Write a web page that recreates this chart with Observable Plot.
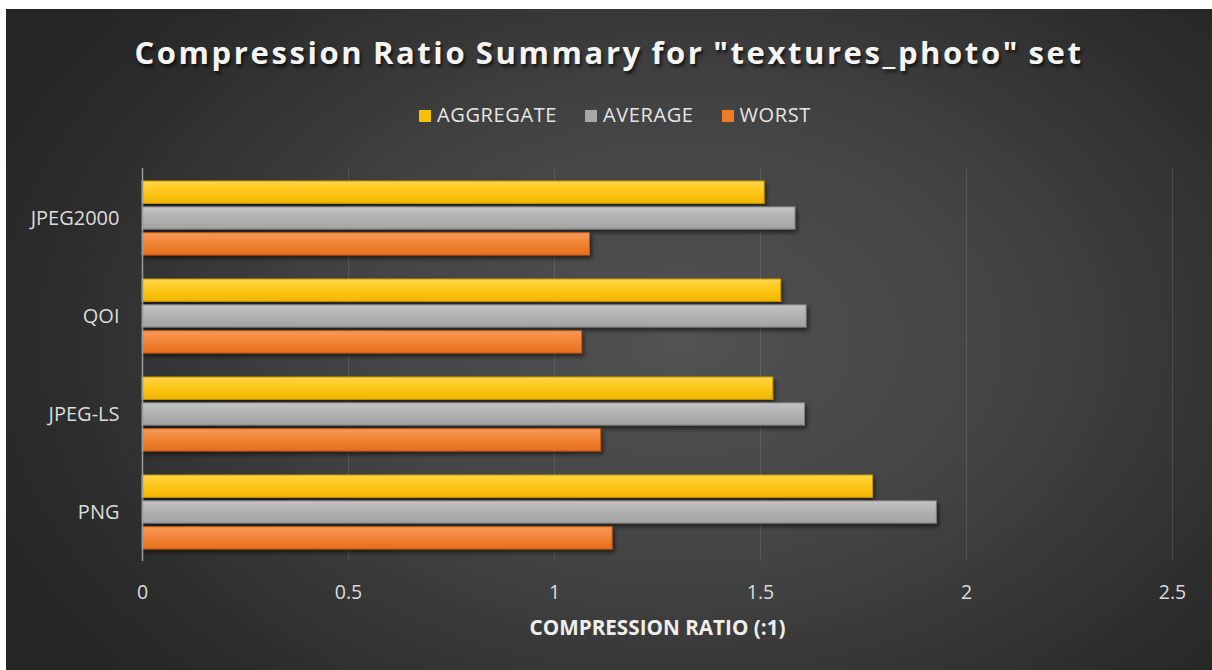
<!DOCTYPE html>
<html>
<head>
<meta charset="utf-8">
<script src="https://cdn.jsdelivr.net/npm/d3@7"></script>
<script src="https://cdn.jsdelivr.net/npm/@observablehq/plot@0.6"></script>
<style>
  html, body { margin: 0; padding: 0; background: #ffffff; }
  #chart {
    position: absolute; left: 6px; top: 9px; width: 1206px; height: 661px; overflow: hidden;
    background: radial-gradient(ellipse 62% 78% at 56% 50%, #525252 0%, #434343 45%, #2c2c2c 85%, #262626 100%);
    font-family: "Open Sans", sans-serif;
  }
  #title {
    position: absolute; left: 0; top: 28px; width: 100%; text-align: center;
    font-size: 31px; line-height: 31px; font-weight: bold; color: #f4f4f4;
    letter-spacing: 2.6px; word-spacing: -2px; text-shadow: 2px 3px 3px rgba(0,0,0,0.6);
  }
  #legend {
    position: absolute; left: 0; top: 96px; width: 100%; display: flex; justify-content: center;
    padding-left: 12px; box-sizing: border-box;
    font-size: 20px; line-height: 20px; color: #e6e6e6; letter-spacing: 0.6px;
  }
  .item { display: flex; align-items: center; margin: 0 14px; }
  .sw { width: 12px; height: 12px; margin-right: 6px; margin-top: 2px; }
  #plot { position: absolute; left: 0; top: 126px; }
</style>
</head>
<body>
<div id="chart">
  <div id="title"></div>
  <div id="legend"></div>
  <div id="plot"></div>
</div>
<script>
const titleText = 'Compression Ratio Summary for "textures_photo" set';
const xLabel = "COMPRESSION RATIO (:1)";
const categories = ["JPEG2000", "QOI", "JPEG-LS", "PNG"];
const series = ["AGGREGATE", "AVERAGE", "WORST"];
const aggregate = [1.510, 1.550, 1.531, 1.773];
const average = [1.585, 1.612, 1.608, 1.928];
const worst = [1.086, 1.067, 1.113, 1.141];
const xTicks = [0, 0.5, 1, 1.5, 2, 2.5];
const swatchColors = ["#f5c000", "#a8a8a8", "#ee7b25"];

document.getElementById("title").textContent = titleText;
const legend = document.getElementById("legend");
series.forEach((s, i) => {
  const it = document.createElement("div");
  it.className = "item";
  const sw = document.createElement("div");
  sw.className = "sw";
  sw.style.background = swatchColors[i];
  const t = document.createElement("span");
  t.textContent = s;
  it.appendChild(sw); it.appendChild(t);
  legend.appendChild(it);
});

const rows = categories.map((c, i) => ({category: c, aggregate: aggregate[i], average: average[i], worst: worst[i]}));

const chart = Plot.plot({
  width: 1206,
  height: 535,
  marginTop: 33,
  marginBottom: 109,
  marginLeft: 136,
  marginRight: 40,
  style: {background: "transparent", fontFamily: "Open Sans, sans-serif", fontSize: "19.5px", color: "#d9d9d9", overflow: "visible"},
  x: {domain: [0, 2.5], ticks: xTicks, tickSize: 0, tickPadding: 24, label: null, tickFormat: d => String(d)},
  y: {domain: categories, paddingInner: 0.25, paddingOuter: 0.125, tickSize: 0, tickPadding: 23, label: null},
  marks: [
    Plot.ruleX(xTicks.slice(1), {stroke: "#ffffff", strokeOpacity: 0.11, strokeWidth: 1.2}),
    Plot.barX(rows, {x: "aggregate", y: "category", fill: "url(#gAgg)", stroke: "#c99a00", strokeWidth: 1, insetTop: 0, insetBottom: 51.7}),
    Plot.barX(rows, {x: "average", y: "category", fill: "url(#gAvg)", stroke: "#7e7e7e", strokeWidth: 1, insetTop: 25.8, insetBottom: 25.9}),
    Plot.barX(rows, {x: "worst", y: "category", fill: "url(#gWorst)", stroke: "#c2590f", strokeWidth: 1, insetTop: 51.7, insetBottom: 0}),
    Plot.ruleX([0], {stroke: "#9a9a9a", strokeWidth: 1.5}),
    Plot.text([xLabel], {frameAnchor: "bottom", dy: 67, lineAnchor: "middle", fontWeight: "bold", fontSize: 20.7, fill: "#eeeeee"})
  ]
});

const svg = d3.select(chart);
const defs = svg.insert("defs", ":first-child");
function grad(id, stops) {
  const g = defs.append("linearGradient").attr("id", id).attr("x1", 0).attr("y1", 0).attr("x2", 0).attr("y2", 1);
  stops.forEach(([o, c]) => g.append("stop").attr("offset", o).attr("stop-color", c));
}
grad("gAgg", [[0, "#ffd54a"], [0.45, "#ffc81a"], [1, "#f2b600"]]);
grad("gAvg", [[0, "#c4c4c4"], [0.45, "#b2b2b2"], [1, "#a3a3a3"]]);
grad("gWorst", [[0, "#f7995a"], [0.45, "#f28638"], [1, "#e76e1c"]]);
const f = defs.append("filter").attr("id", "shadow").attr("x", "-5%").attr("y", "-40%").attr("width", "115%").attr("height", "200%");
f.append("feDropShadow").attr("dx", 2).attr("dy", 3).attr("stdDeviation", 2).attr("flood-color", "#000").attr("flood-opacity", 0.55);
svg.selectAll('g[aria-label="bar"]').attr("filter", "url(#shadow)");
svg.selectAll('g[aria-label="y-axis tick label"] text, g[aria-label="x-axis tick label"] text').attr("fill", "#dcdcdc");
svg.selectAll('g[aria-label="y-axis tick label"]').attr("font-size", 20);

document.getElementById("plot").appendChild(chart);
</script>
</body>
</html>
